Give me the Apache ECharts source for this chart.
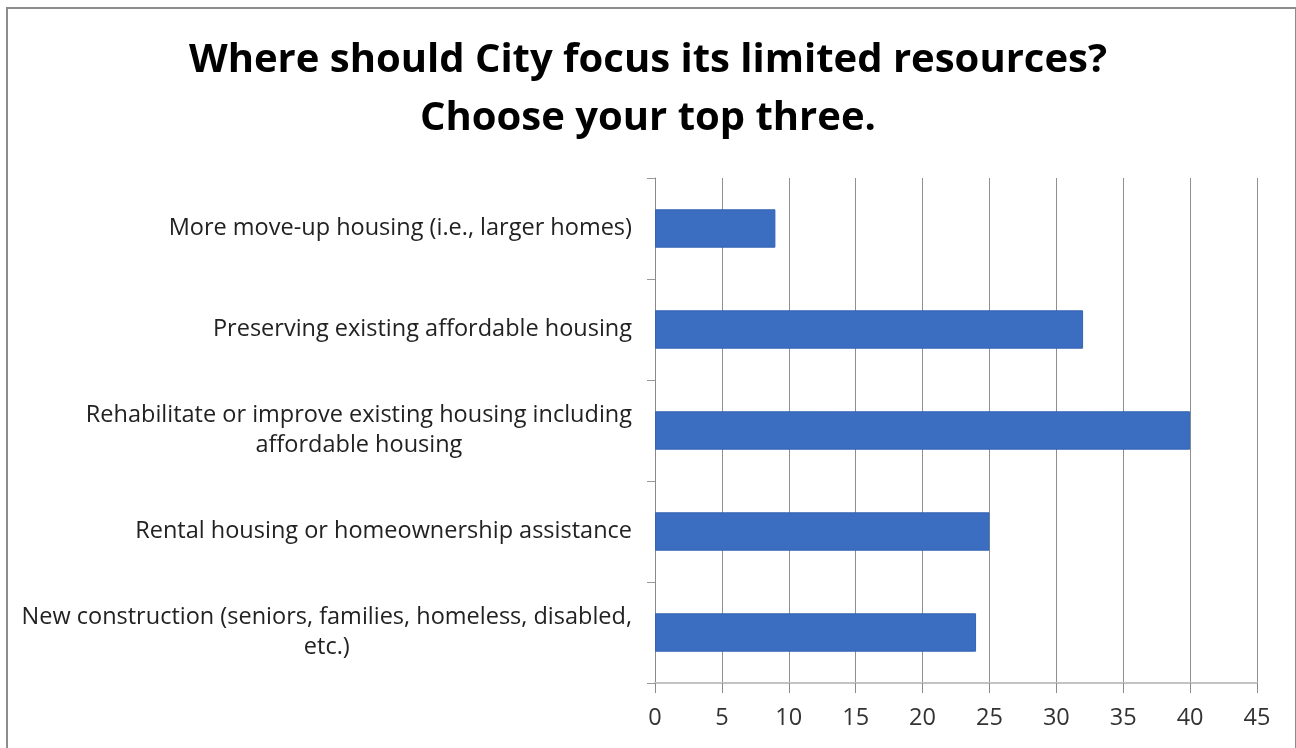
<!DOCTYPE html>
<html>
<head>
<meta charset="utf-8">
<script src="https://cdn.jsdelivr.net/npm/echarts@6/dist/echarts.min.js"></script>
<style>
  html, body { margin: 0; padding: 0; background: #fff; }
  #chart { position: absolute; left: 0; top: 0; width: 1296px; height: 748px; }
  #frame { position: absolute; left: 6px; top: 7px; width: 1287px; height: 760px;
           border: 2px solid #8c8c8c; border-bottom: none; pointer-events: none; }
</style>
</head>
<body>
<div id="chart"></div>
<div id="frame"></div>
<script>
const titleText = 'Where should City focus its limited resources?\nChoose your top three.';
// bottom-to-top order (ECharts category y-axis starts at the bottom)
const categories = [
  'New construction (seniors, families, homeless, disabled,\netc.)',
  'Rental housing or homeownership assistance',
  'Rehabilitate or improve existing housing including\naffordable housing',
  'Preserving existing affordable housing',
  'More move-up housing (i.e., larger homes)'
];
const values = [24, 25, 40, 32, 9];
const xMin = 0, xMax = 45, xInterval = 5;

const chart = echarts.init(document.getElementById('chart'), null, { renderer: 'canvas' });
chart.setOption({
  animation: false,
  backgroundColor: '#ffffff',
  title: {
    text: titleText,
    left: 'center',
    top: 27,
    textStyle: {
      fontFamily: 'Open Sans',
      fontWeight: 'bold',
      fontSize: 40,
      lineHeight: 58,
      color: '#000000'
    }
  },
  grid: { left: 655, right: 39, top: 178, bottom: 65, containLabel: false },
  xAxis: {
    type: 'value',
    min: xMin, max: xMax, interval: xInterval,
    axisLine: { show: true, lineStyle: { color: '#c4c4c4', width: 2 } },
    axisTick: { show: true, length: 10, lineStyle: { color: '#8a8a8a' } },
    splitLine: { show: true, lineStyle: { color: '#8f8f8f', width: 1 } },
    axisLabel: { margin: 23, fontFamily: 'Open Sans', fontSize: 23.5, color: '#333333' }
  },
  yAxis: {
    type: 'category',
    data: categories,
    axisLine: { show: true, lineStyle: { color: '#8a8a8a', width: 1 } },
    axisTick: { show: true, length: 8, lineStyle: { color: '#9a9a9a' } },
    axisLabel: {
      margin: 23,
      fontFamily: 'Open Sans',
      fontSize: 23.5,
      color: '#222222',
      formatter: function (v) {
        return v.split('\n').map(function (l) { return '{c|' + l + '}'; }).join('\n');
      },
      rich: {
        c: { align: 'center', fontFamily: 'Open Sans', fontSize: 23.5, lineHeight: 30, color: '#222222' }
      }
    }
  },
  series: [{
    type: 'bar',
    data: values,
    barCategoryGap: '62%',
    itemStyle: { color: '#3b6dc1', borderColor: '#3263b3', borderWidth: 1 }
  }]
});
</script>
</body>
</html>
